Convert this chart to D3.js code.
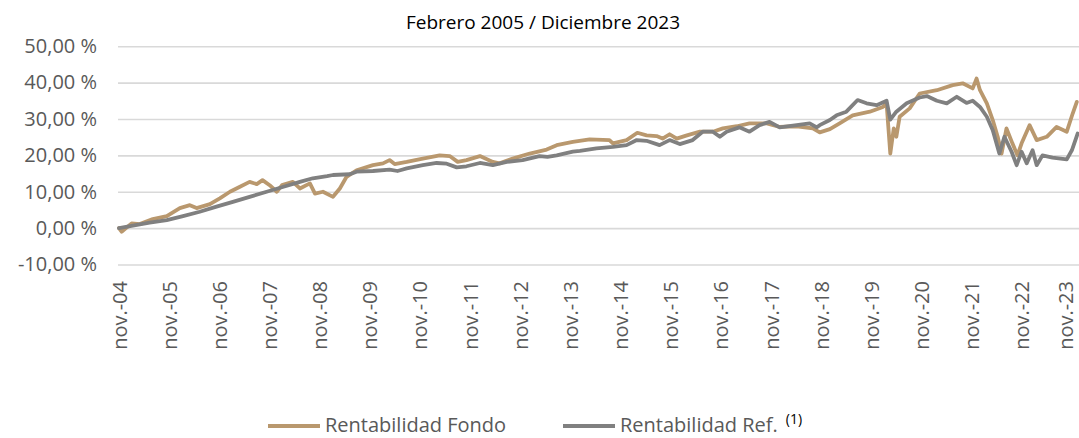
<!DOCTYPE html>
<html>
<head>
<meta charset="utf-8">
<script src="https://cdn.jsdelivr.net/npm/d3@7"></script>
<style>
  body { margin: 0; background: #fff; }
  svg { display: block; font-family: "Open Sans", sans-serif; }
</style>
</head>
<body>
<svg id="chart" width="1079" height="438"></svg>
<script>
const chartTitle = "Febrero 2005 / Diciembre 2023";
const seriesNames = ["Rentabilidad Fondo", "Rentabilidad Ref."];
const yTicks = [-10, 0, 10, 20, 30, 40, 50];
const tickYears = d3.range(2004, 2024); // one tick each November

const fondoDates = [
    "2004-11-01", "2004-11-20", "2005-02-01", "2005-04-01", "2005-07-05", "2005-10-15", "2006-01-18", "2006-04-01", "2006-05-20", "2006-08-25",
    "2006-11-05", "2007-01-18", "2007-03-28", "2007-06-10", "2007-08-01", "2007-09-12", "2007-11-03", "2007-12-25", "2008-02-01", "2008-04-20",
    "2008-06-10", "2008-08-22", "2008-09-28", "2008-11-25", "2009-02-06", "2009-03-28", "2009-05-16", "2009-07-28", "2009-11-24", "2010-02-05",
    "2010-03-25", "2010-05-01", "2010-07-28", "2010-11-22", "2011-03-25", "2011-06-06", "2011-08-03", "2011-10-06", "2012-01-12", "2012-04-15",
    "2012-06-03", "2012-09-06", "2013-01-09", "2013-05-12", "2013-07-24", "2013-11-18", "2014-03-21", "2014-08-12", "2014-09-06", "2014-12-15",
    "2015-03-03", "2015-05-09", "2015-07-21", "2015-09-03", "2015-10-24", "2015-12-15", "2016-02-27", "2016-06-01", "2016-09-03", "2016-11-15",
    "2017-02-25", "2017-05-28", "2017-10-01", "2018-01-03", "2018-05-06", "2018-09-01", "2018-10-21", "2019-01-03", "2019-03-15", "2019-06-18",
    "2019-10-21", "2020-01-24", "2020-02-20", "2020-03-18", "2020-04-12", "2020-05-01", "2020-05-25", "2020-08-06", "2020-10-18", "2021-02-20",
    "2021-06-15", "2021-08-27", "2021-11-08", "2021-12-06", "2021-12-31", "2022-02-19", "2022-04-03", "2022-05-09", "2022-06-06", "2022-07-12",
    "2022-08-24", "2022-09-30", "2022-10-30", "2022-12-27", "2023-02-17", "2023-05-01", "2023-07-12", "2023-09-24", "2023-11-06", "2023-12-06"
];
const fondoValues = [
    0, -1.0, 1.3, 1.1, 2.5, 3.3, 5.5, 6.3, 5.5, 6.6,
    8.2, 10.0, 11.3, 12.7, 12.1, 13.2, 11.8, 10.0, 11.8, 12.7,
    10.9, 12.3, 9.5, 10.0, 8.6, 10.9, 14.1, 15.9, 17.3, 17.8,
    18.7, 17.6, 18.2, 19.1, 20.0, 19.8, 18.2, 18.7, 19.8, 18.2,
    17.8, 19.1, 20.5, 21.6, 22.8, 23.7, 24.4, 24.2, 23.3, 24.2,
    26.2, 25.5, 25.3, 24.6, 25.8, 24.6, 25.5, 26.5, 26.5, 27.4,
    28.0, 28.8, 28.8, 27.8, 28.0, 27.4, 26.3, 27.2, 28.8, 31.0,
    32.0, 33.3, 34.3, 20.5, 27.4, 25.1, 30.6, 32.9, 37.0, 37.9,
    39.3, 39.8, 38.4, 41.1, 37.9, 34.3, 29.7, 25.1, 20.5, 27.4,
    23.3, 20.0, 23.3, 28.3, 24.2, 25.1, 27.8, 26.5, 31.5, 34.7
];

const refDates = [
    "2004-11-01", "2005-02-10", "2005-06-12", "2005-10-15", "2006-02-10", "2006-06-12", "2006-10-12", "2007-02-08", "2007-06-10", "2007-10-12",
    "2008-02-06", "2008-06-10", "2008-09-12", "2008-12-25", "2009-02-06", "2009-06-08", "2009-07-28", "2009-11-24", "2010-03-25", "2010-05-22",
    "2010-07-28", "2010-11-22", "2011-03-03", "2011-05-15", "2011-07-27", "2011-10-06", "2012-01-12", "2012-04-15", "2012-07-25", "2012-11-18",
    "2013-03-21", "2013-05-18", "2013-07-24", "2013-11-18", "2014-01-09", "2014-05-09", "2014-09-06", "2014-12-15", "2015-02-27", "2015-05-09",
    "2015-08-12", "2015-10-24", "2016-01-06", "2016-04-09", "2016-06-21", "2016-09-03", "2016-10-24", "2016-12-12", "2017-03-15", "2017-05-28",
    "2017-08-09", "2017-10-21", "2018-01-03", "2018-05-06", "2018-08-09", "2018-09-30", "2018-10-21", "2019-01-03", "2019-02-21", "2019-05-03",
    "2019-07-24", "2019-09-27", "2019-12-09", "2020-02-20", "2020-03-18", "2020-05-01", "2020-07-15", "2020-10-18", "2020-12-09", "2021-02-20",
    "2021-05-03", "2021-07-15", "2021-09-24", "2021-11-08", "2021-12-31", "2022-02-19", "2022-04-03", "2022-05-21", "2022-06-27", "2022-08-18",
    "2022-09-24", "2022-10-30", "2022-12-06", "2023-01-18", "2023-02-17", "2023-03-31", "2023-06-12", "2023-09-24", "2023-10-31", "2023-12-12"
];
const refValues = [
    0, 0.7, 1.5, 2.2, 3.3, 4.5, 5.9, 7.2, 8.6, 10.0,
    11.3, 12.7, 13.7, 14.3, 14.6, 14.8, 15.5, 15.7, 16.1, 15.7,
    16.4, 17.3, 17.9, 17.7, 16.7, 17.0, 17.9, 17.3, 18.2, 18.7,
    19.8, 19.6, 20.0, 21.0, 21.2, 21.9, 22.3, 22.8, 24.2, 24.0,
    22.8, 24.2, 23.1, 24.2, 26.5, 26.5, 25.1, 26.5, 27.7, 26.5,
    28.3, 29.2, 27.7, 28.3, 28.8, 27.7, 28.3, 29.7, 31.0, 32.0,
    35.2, 34.3, 33.8, 35.0, 29.8, 32.0, 34.3, 35.9, 36.3, 35.0,
    34.3, 36.1, 34.4, 35.0, 33.3, 30.6, 26.9, 20.5, 25.1, 21.0,
    17.3, 21.0, 17.8, 21.4, 17.3, 20.0, 19.4, 18.9, 21.4, 26.0
];

(() => {
    const svg = d3.select("svg#chart");
    const parse = d3.timeParse("%Y-%m-%d");

    const left = 118;
    const right = 1079;

    const x = d3.scaleTime()
        .domain([new Date(2004, 10, 1), new Date(2023, 10, 1)])
        .range([119, 1072]);
    const y = d3.scaleLinear()
        .domain([-10, 50])
        .range([264.5, 46.2]);

    // title
    svg.append("text")
        .attr("x", 543)
        .attr("y", 29)
        .attr("text-anchor", "middle")
        .style("font-size", "19px")
        .style("fill", "#000")
        .text(chartTitle);

    // horizontal grid
    const grid = svg.append("g")
        .attr("transform", `translate(${left},0)`)
        .call(d3.axisLeft(y)
            .tickValues(yTicks)
            .tickSize(-(right - left))
            .tickFormat(""));
    grid.select(".domain").remove();
    grid.selectAll("line")
        .attr("stroke", "#D9D9D9")
        .attr("stroke-width", 1.6);

    // y labels
    const yAxis = svg.append("g")
        .attr("transform", `translate(${left},0)`)
        .call(d3.axisLeft(y)
            .tickValues(yTicks)
            .tickSize(0)
            .tickPadding(21)
            .tickFormat(d => d.toFixed(2).replace(".", ",") + " %"));
    yAxis.select(".domain").remove();
    yAxis.selectAll("text")
        .style("font-size", "20px")
        .style("font-family", "'Open Sans', sans-serif")
        .attr("fill", "#595959");

    // x labels, rotated
    const xAxis = svg.append("g")
        .attr("transform", "translate(0,281)")
        .call(d3.axisBottom(x)
            .tickValues(tickYears.map(yr => new Date(yr, 10, 1)))
            .tickSize(0)
            .tickFormat(d => "nov.-" + d3.timeFormat("%y")(d)));
    xAxis.select(".domain").remove();
    xAxis.selectAll("text")
        .attr("transform", "rotate(-90)")
        .attr("x", 0)
        .attr("y", (d, i, n) => i === n.length - 1 ? -7 : 0) // keep last label inside the page
        .attr("dy", "0.35em")
        .style("text-anchor", "end")
        .style("font-size", "20px")
        .style("font-family", "'Open Sans', sans-serif")
        .attr("fill", "#595959");

    const fondo = fondoDates.map((d, i) => ({date: parse(d), value: fondoValues[i]}));
    const ref = refDates.map((d, i) => ({date: parse(d), value: refValues[i]}));

    const line = d3.line()
        .x(d => x(d.date))
        .y(d => y(d.value));

    const colors = ["#B9986E", "#808080"];

    [fondo, ref].forEach((s, i) => {
        svg.append("path")
            .datum(s)
            .attr("d", line)
            .attr("fill", "none")
            .attr("stroke", colors[i])
            .attr("stroke-width", 3.8)
            .attr("stroke-linejoin", "round")
            .attr("stroke-linecap", "round");
    });

    // legend
    const legendItems = [
        {x1: 268, x2: 320, tx: 325},
        {x1: 563, x2: 615, tx: 620},
    ];
    legendItems.forEach((it, i) => {
        svg.append("line")
            .attr("x1", it.x1).attr("x2", it.x2)
            .attr("y1", 426).attr("y2", 426)
            .attr("stroke", colors[i])
            .attr("stroke-width", 4);
        const t = svg.append("text")
            .attr("x", it.tx)
            .attr("y", 432)
            .style("font-size", "20px")
            .attr("fill", "#595959")
            .text(seriesNames[i]);
        if (i === 1) {
            t.append("tspan")
                .attr("dx", 8)
                .attr("dy", -8)
                .style("font-size", "14px")
                .attr("fill", "#000")
                .text("(1)");
        }
    });
})();
</script>
</body>
</html>
